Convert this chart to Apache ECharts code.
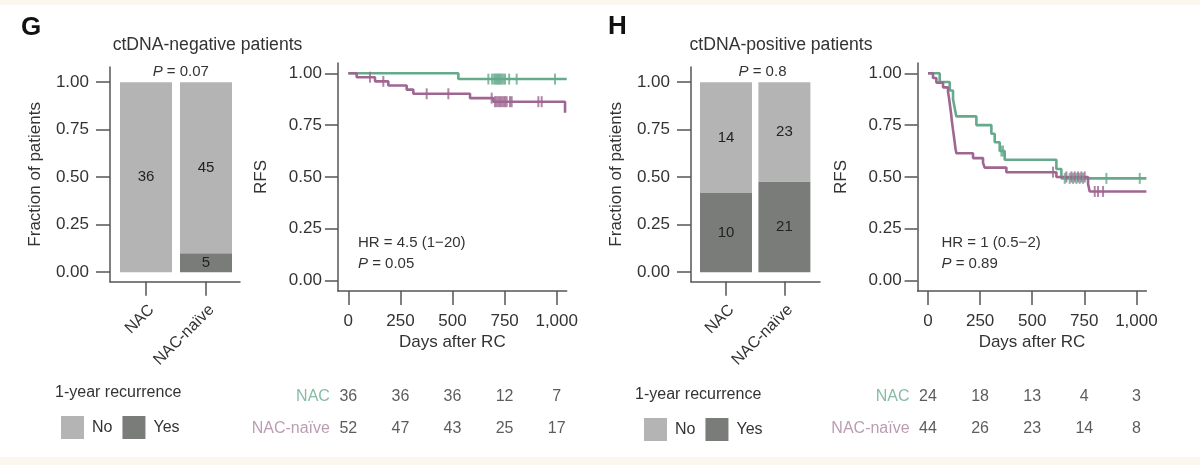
<!DOCTYPE html>
<html>
<head>
<meta charset="utf-8">
<script src="https://cdn.jsdelivr.net/npm/echarts@6/dist/echarts.min.js"></script>
<style>
  html, body { margin: 0; padding: 0; background: #fbf7ee; }
  #paper { position: absolute; left: 0; top: 5px; width: 1200px; height: 452px; background: #fff; }
  #main { position: absolute; left: 0; top: 0; width: 1200px; height: 465px; }
</style>
</head>
<body>
<div id="paper"></div>
<div id="main"></div>
<script>
// groups and 1-year recurrence counts (No / Yes)
var groups = ['NAC', 'NAC-naïve'];
var gNoCounts = [36, 45];
var gYesCounts = [0, 5];
var hNoCounts = [14, 23];
var hYesCounts = [10, 21];

// tick labels
var fracTicks = [0, 0.25, 0.5, 0.75, 1];
var riskDays = [0, 250, 500, 750, 1000];

// numbers at risk
var gNacRisk = [36, 36, 36, 12, 7];
var gNaiveRisk = [52, 47, 43, 25, 17];
var hNacRisk = [24, 18, 13, 4, 3];
var hNaiveRisk = [44, 26, 23, 14, 8];

// Kaplan-Meier steps [day, RFS]
var gNacSteps = [[0, 1], [528, 0.972], [1048, 0.972]];
var gNacCensor = [[672, 0.972], [690, 0.972], [700, 0.972], [706, 0.972], [712, 0.972], [718, 0.972],
  [724, 0.972], [730, 0.972], [736, 0.972], [744, 0.972], [752, 0.972], [772, 0.972], [808, 0.972], [992, 0.972]];
var gNaiveSteps = [[0, 1], [40, 0.981], [128, 0.961], [192, 0.941], [280, 0.921], [312, 0.901],
  [584, 0.880], [696, 0.863], [1040, 0.81]];
var gNaiveCensor = [[104, 0.981], [168, 0.961], [376, 0.901], [480, 0.901], [688, 0.880], [704, 0.863],
  [712, 0.863], [720, 0.863], [728, 0.863], [736, 0.863], [744, 0.863], [752, 0.863], [760, 0.863],
  [776, 0.863], [784, 0.863], [912, 0.863], [928, 0.863]];

var hNacSteps = [[0, 1], [56, 0.958], [104, 0.917], [120, 0.875], [128, 0.833], [136, 0.792],
  [232, 0.75], [304, 0.708], [320, 0.667], [344, 0.625], [368, 0.583], [616, 0.538], [640, 0.493], [1048, 0.493]];
var hNacCensor = [[352, 0.625], [360, 0.625], [656, 0.493], [680, 0.493], [696, 0.493], [712, 0.493],
  [728, 0.493], [744, 0.493], [856, 0.493], [1016, 0.493]];
var hNaiveSteps = [[0, 1], [24, 0.977], [40, 0.955], [72, 0.932], [96, 0.909], [100, 0.886], [103, 0.864],
  [106, 0.841], [109, 0.818], [112, 0.795], [114, 0.773], [117, 0.75], [120, 0.727], [123, 0.705],
  [126, 0.682], [129, 0.659], [132, 0.636], [136, 0.614], [216, 0.591], [264, 0.568], [272, 0.545],
  [376, 0.523], [616, 0.5], [768, 0.466], [776, 0.43], [1048, 0.43]];
var hNaiveCensor = [[600, 0.523], [664, 0.5], [688, 0.5], [704, 0.5], [720, 0.5], [736, 0.5], [752, 0.5],
  [800, 0.43], [816, 0.43], [840, 0.43]];

var FONT = '"Liberation Sans", Arial, Helvetica, sans-serif';
var TXT = '#333';
var GREEN = '#66aa8c';
var PURPLE = '#9e6690';
var LIGHT = '#b4b4b4';
var DARK = '#7a7c7a';
var axisStyle = { color: '#555', width: 1.5 };

var chart = echarts.init(document.getElementById('main'));

function fractions(part, other) {
  return part.map(function (n, i) { return { value: n / (n + other[i]), count: n }; });
}

// frame axes of the bar panels (axis lines, y ticks and labels)
function frameX(gi) {
  return {
    type: 'value', gridIndex: gi, min: 0, max: 1,
    axisLine: { show: true, onZero: false, lineStyle: axisStyle },
    axisTick: { show: false }, axisLabel: { show: false }, splitLine: { show: false }
  };
}
function frameY(gi) {
  return {
    type: 'value', gridIndex: gi, min: -0.05, max: 1.08,
    axisLine: { show: true, onZero: false, lineStyle: axisStyle },
    axisTick: { show: true, length: 14, customValues: fracTicks, lineStyle: axisStyle },
    axisLabel: {
      customValues: fracTicks, formatter: function (v) { return v.toFixed(2); },
      margin: 21, fontSize: 17, color: TXT, fontFamily: FONT
    },
    splitLine: { show: false },
    name: 'Fraction of patients', nameLocation: 'middle', nameRotate: 90, nameGap: 66,
    nameTextStyle: { fontSize: 17, color: TXT, fontFamily: FONT }
  };
}
// bar axes (categories with rotated labels)
function barX(gi) {
  return {
    type: 'category', gridIndex: gi, data: groups,
    axisLine: { show: false, onZero: false },
    axisTick: { show: true, alignWithLabel: true, length: 14, lineStyle: axisStyle },
    axisLabel: {
      rotate: 45, align: 'right', verticalAlign: 'top', margin: 20, interval: 0,
      fontSize: 16, color: TXT, fontFamily: FONT
    }
  };
}
function barY(gi) {
  return { type: 'value', gridIndex: gi, min: -0.05, max: 1.08, show: false };
}
function kmX(gi) {
  return {
    type: 'value', gridIndex: gi, min: -50, max: 1048,
    axisLine: { show: true, onZero: false, lineStyle: axisStyle },
    axisTick: { show: true, length: 14, customValues: riskDays, lineStyle: axisStyle },
    axisLabel: {
      customValues: riskDays, formatter: function (v) { return v.toLocaleString('en-US'); },
      margin: 22, fontSize: 17, color: TXT, fontFamily: FONT
    },
    splitLine: { show: false },
    name: 'Days after RC', nameLocation: 'middle', nameGap: 43,
    nameTextStyle: { fontSize: 17, color: TXT, fontFamily: FONT }
  };
}
function kmY(gi) {
  return {
    type: 'value', gridIndex: gi, min: -0.05, max: 1.05,
    axisLine: { show: true, onZero: false, lineStyle: axisStyle },
    axisTick: { show: true, length: 13, customValues: fracTicks, lineStyle: axisStyle },
    axisLabel: {
      customValues: fracTicks, formatter: function (v) { return v.toFixed(2); },
      margin: 16, fontSize: 17, color: TXT, fontFamily: FONT
    },
    splitLine: { show: false },
    name: 'RFS', nameLocation: 'middle', nameRotate: 90, nameGap: 68,
    nameTextStyle: { fontSize: 17, color: TXT, fontFamily: FONT }
  };
}
function riskX(gi) {
  return { type: 'value', gridIndex: gi, min: -50, max: 1048, show: false };
}
function riskY(gi) {
  return {
    type: 'category', gridIndex: gi, data: ['NAC-naïve', 'NAC'],
    axisLine: { show: false }, axisTick: { show: false },
    axisLabel: {
      margin: 8, fontSize: 16, fontFamily: FONT,
      color: function (v) { return v === 'NAC' ? '#86bba4' : '#bb9cb2'; }
    }
  };
}

function barSeries(name, data, color, ai, stack) {
  return {
    type: 'bar', name: name, xAxisIndex: ai, yAxisIndex: ai, stack: stack, barWidth: 52,
    data: data, itemStyle: { color: color }, silent: true,
    label: {
      show: true, position: 'inside', fontSize: 15, color: '#222', fontFamily: FONT,
      formatter: function (p) { return p.data.count ? String(p.data.count) : ''; }
    }
  };
}
function kmLine(name, steps, color, ai) {
  return {
    type: 'line', name: name, xAxisIndex: ai, yAxisIndex: ai, data: steps, step: 'end',
    symbol: 'none', lineStyle: { color: color, width: 2.6 }, itemStyle: { color: color }, silent: true, z: 3
  };
}
function censor(data, color, ai) {
  return {
    type: 'scatter', xAxisIndex: ai, yAxisIndex: ai, data: data, symbol: 'rect',
    symbolSize: [2, 11], itemStyle: { color: color }, silent: true, z: 4
  };
}
function riskSeries(counts, row, ai) {
  return {
    type: 'scatter', xAxisIndex: ai, yAxisIndex: ai, symbolSize: 1, silent: true,
    itemStyle: { color: 'rgba(0,0,0,0)' },
    data: riskDays.map(function (d, i) { return [d, row, counts[i]]; }),
    label: {
      show: true, position: 'inside', fontSize: 16, color: TXT, fontFamily: FONT,
      formatter: function (p) { return String(p.value[2]); }
    }
  };
}

function txt(x, y, text, size, opts) {
  var st = {
    text: text, x: x, y: y, fontSize: size, fontFamily: FONT, fill: TXT,
    align: 'left', verticalAlign: 'middle',
    rich: { i: { fontStyle: 'italic', fontSize: size, fontFamily: FONT, fill: TXT } }
  };
  if (opts) Object.keys(opts).forEach(function (k) { st[k] = opts[k]; });
  return { type: 'text', style: st, silent: true };
}

var legendBase = {
  data: ['No', 'Yes'], orient: 'horizontal', itemWidth: 23, itemHeight: 23, itemGap: 10,
  icon: 'rect', selectedMode: false,
  textStyle: { fontSize: 16, color: TXT, fontFamily: FONT, padding: [0, 0, 0, 3] }
};

chart.setOption({
  animation: false,
  grid: [
    { left: 110, top: 67, width: 130, height: 214.7, outerBoundsMode: 'none' },
    { left: 116, top: 67, width: 120, height: 214.7, outerBoundsMode: 'none' },
    { left: 337.9, top: 62.9, width: 228.8, height: 228.1, outerBoundsMode: 'none' },
    { left: 337.9, top: 381, width: 228.8, height: 63.2, outerBoundsMode: 'none' },
    { left: 691, top: 67, width: 129, height: 214.7, outerBoundsMode: 'none' },
    { left: 696.8, top: 67, width: 116.8, height: 214.7, outerBoundsMode: 'none' },
    { left: 917.6, top: 62.9, width: 228.8, height: 228.1, outerBoundsMode: 'none' },
    { left: 917.6, top: 381, width: 228.8, height: 63.2, outerBoundsMode: 'none' }
  ],
  xAxis: [frameX(0), barX(1), kmX(2), riskX(3), frameX(4), barX(5), kmX(6), riskX(7)],
  yAxis: [frameY(0), barY(1), kmY(2), riskY(3), frameY(4), barY(5), kmY(6), riskY(7)],
  legend: [
    Object.assign({}, legendBase, { left: 56, top: 411 }),
    Object.assign({}, legendBase, { left: 639, top: 413 })
  ],
  series: [
    barSeries('Yes', fractions(gYesCounts, gNoCounts), DARK, 1, 'g'),
    barSeries('No', fractions(gNoCounts, gYesCounts), LIGHT, 1, 'g'),
    kmLine('NAC', gNacSteps, GREEN, 2),
    kmLine('NAC-naïve', gNaiveSteps, PURPLE, 2),
    censor(gNacCensor, GREEN, 2),
    censor(gNaiveCensor, PURPLE, 2),
    riskSeries(gNacRisk, 'NAC', 3),
    riskSeries(gNaiveRisk, 'NAC-naïve', 3),
    barSeries('Yes', fractions(hYesCounts, hNoCounts), DARK, 5, 'h'),
    barSeries('No', fractions(hNoCounts, hYesCounts), LIGHT, 5, 'h'),
    kmLine('NAC', hNacSteps, GREEN, 6),
    kmLine('NAC-naïve', hNaiveSteps, PURPLE, 6),
    censor(hNacCensor, GREEN, 6),
    censor(hNaiveCensor, PURPLE, 6),
    riskSeries(hNacRisk, 'NAC', 7),
    riskSeries(hNaiveRisk, 'NAC-naïve', 7)
  ],
  graphic: [
    txt(21, 28, 'G', 26, { fontWeight: 'bold', fill: '#111' }),
    txt(608, 27, 'H', 26, { fontWeight: 'bold', fill: '#111' }),
    txt(207.5, 45, 'ctDNA-negative patients', 17.6, { align: 'center' }),
    txt(781, 45, 'ctDNA-positive patients', 17.6, { align: 'center' }),
    txt(180.8, 72, '{i|P} = 0.07', 15, { align: 'center' }),
    txt(762.5, 72, '{i|P} = 0.8', 15, { align: 'center' }),
    txt(358, 243, 'HR = 4.5 (1\u221220)', 15),
    txt(358, 264, '{i|P} = 0.05', 15),
    txt(941.5, 243, 'HR = 1 (0.5\u22122)', 15),
    txt(941.5, 264, '{i|P} = 0.89', 15),
    txt(55, 393, '1-year recurrence', 16),
    txt(635, 395, '1-year recurrence', 16)
  ]
});

window.addEventListener('resize', function () {
  chart.resize();
});
</script>
</body>
</html>
